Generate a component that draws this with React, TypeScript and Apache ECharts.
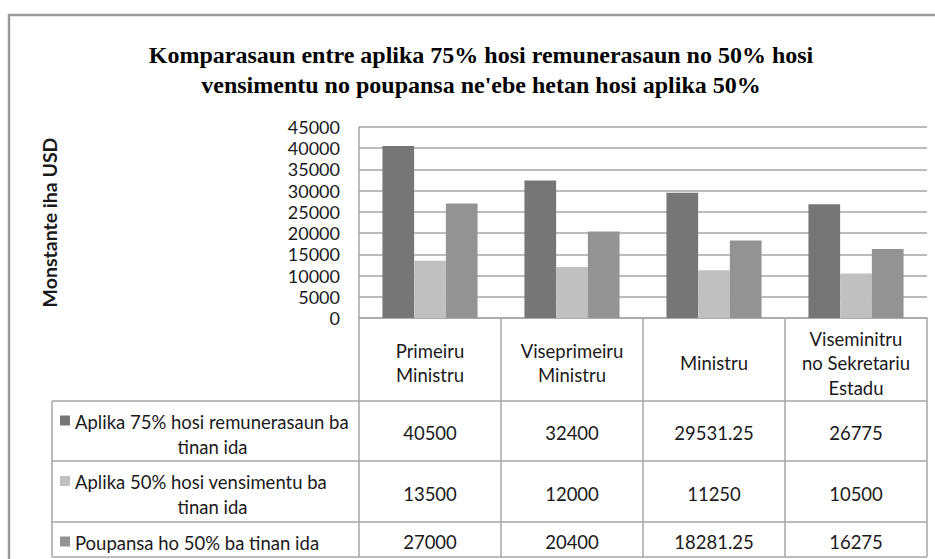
import React, { useEffect, useRef } from "react";
import * as echarts from "echarts";

const titleLines = [
  "Komparasaun entre aplika 75% hosi remunerasaun no 50% hosi",
  "vensimentu no poupansa ne'ebe hetan hosi aplika 50%",
];
const yAxisName = "Monstante iha USD";
const categories = [
  "Primeiru\nMinistru",
  "Viseprimeiru\nMinistru",
  "Ministru",
  "Viseminitru\nno Sekretariu\nEstadu",
];
const seriesNames = [
  "Aplika 75% hosi remunerasaun ba\ntinan ida",
  "Aplika 50% hosi vensimentu ba\ntinan ida",
  "Poupansa ho 50% ba tinan ida",
];
const aplika75 = [40500, 32400, 29531.25, 26775];
const aplika50 = [13500, 12000, 11250, 10500];
const poupansa = [27000, 20400, 18281.25, 16275];
const seriesValues = [aplika75, aplika50, poupansa];
const yMin = 0;
const yMax = 45000;
const yInterval = 5000;

const colors = ["#767676", "#c0c0c0", "#939393"];
const lineColor = "#a6a6a6";
const textColor = "#1a1a1a";
const font = "Lato, 'Open Sans', sans-serif";
const tableFontSize = 18.5;

export default function App() {
  const ref = useRef<HTMLDivElement>(null);
  useEffect(() => {
    if (!ref.current) return;
    const chart = echarts.init(ref.current, undefined, { renderer: "svg" });
    const gridLeft = 359;
    const gridTop = 127;
    const gridWidth = 568;
    const gridHeight = 191;
    chart.setOption({
      animation: false,
      backgroundColor: "#ffffff",
      title: {
        text: titleLines.join("\n"),
        left: 481,
        top: 40,
        padding: 0,
        textAlign: "center",
        textStyle: {
          fontFamily: "'Liberation Serif', 'Times New Roman', serif",
          fontWeight: "bold",
          fontSize: 24,
          lineHeight: 30,
          color: "#000",
        },
      },
      grid: { left: gridLeft, top: gridTop, width: gridWidth, height: gridHeight, containLabel: false },
      xAxis: {
        type: "category",
        data: categories,
        axisLabel: { show: false },
        axisTick: { show: false },
        axisLine: { show: true, lineStyle: { color: lineColor, width: 1.5 } },
        splitLine: { show: false },
      },
      yAxis: {
        type: "value",
        min: yMin,
        max: yMax,
        interval: yInterval,
        name: yAxisName,
        nameLocation: "middle",
        nameRotate: 90,
        nameGap: 300,
        nameTextStyle: { fontFamily: font, fontWeight: "bold", fontSize: 19.5, color: textColor },
        axisLine: { show: true, lineStyle: { color: lineColor, width: 1.5 } },
        axisTick: { show: false },
        splitLine: { show: true, lineStyle: { color: lineColor, width: 1.5 } },
        axisLabel: {
          fontFamily: font,
          fontSize: 18,
          color: textColor,
          margin: 19,
          padding: [5, 0, 0, 0],
          formatter: (v: number) => String(v),
        },
      },
      series: seriesValues.map((vals, i) => ({
        type: "bar",
        name: seriesNames[i],
        data: vals,
        barGap: "0%",
        barCategoryGap: "33%",
        itemStyle: { color: colors[i] },
      })),
    });

    const cx = categories.map((_, i) => chart.convertToPixel({ xAxisIndex: 0 }, i) as number);
    const band = cx.length > 1 ? cx[1] - cx[0] : gridWidth;
    const y0 = chart.convertToPixel({ yAxisIndex: 0 }, 0) as number;
    const tableLeft = 52;
    const headerH = 83;
    const rowHeights = [60, 61, 35];
    const rowTops: number[] = [];
    let acc = y0 + headerH;
    rowHeights.forEach((h) => {
      rowTops.push(acc);
      acc += h;
    });
    const yEnd = acc;
    const colLeft = cx[0] - band / 2;
    const colRight = cx[cx.length - 1] + band / 2;
    const lineStyle = { stroke: lineColor, lineWidth: 1.5 };

    const els: any[] = [];
    els.push({
      type: "rect",
      shape: { x: 9, y: 15, width: 1000, height: 700 },
      style: { fill: "none", stroke: "#9a9a9a", lineWidth: 2.5 },
      z: 0,
    });
    const bounds = cx.map((c) => c - band / 2).concat([colRight]);
    bounds.forEach((x) => {
      els.push({ type: "line", shape: { x1: x, y1: y0, x2: x, y2: yEnd }, style: lineStyle, z: 10 });
    });
    els.push({
      type: "line",
      shape: { x1: tableLeft, y1: y0 + headerH, x2: tableLeft, y2: yEnd },
      style: lineStyle,
      z: 10,
    });
    rowTops.concat([yEnd]).forEach((y) => {
      els.push({ type: "line", shape: { x1: tableLeft, y1: y, x2: colRight, y2: y }, style: lineStyle, z: 10 });
    });
    categories.forEach((c, i) => {
      els.push({
        type: "text",
        x: cx[i],
        y: y0 + 45,
        style: {
          text: c,
          align: "center",
          verticalAlign: "middle",
          fontFamily: font,
          fontSize: tableFontSize,
          lineHeight: 24.5,
          fill: textColor,
        },
        z: 10,
      });
    });
    const lh = 25;
    seriesNames.forEach((name, r) => {
      const top = rowTops[r];
      const center = top + rowHeights[r] / 2;
      const lines = name.split("\n");
      const firstY = center - ((lines.length - 1) * lh) / 2 + 3;
      els.push({
        type: "rect",
        shape: { x: 60, y: firstY - 6, width: 10, height: 10 },
        style: { fill: colors[r] },
        z: 10,
      });
      lines.forEach((ln, k) => {
        els.push({
          type: "text",
          x: k === 0 ? 75 : (tableLeft + colLeft) / 2 + 7,
          y: firstY + k * lh,
          style: {
            text: ln,
            align: k === 0 ? "left" : "center",
            verticalAlign: "middle",
            fontFamily: font,
            fontSize: tableFontSize,
            fill: textColor,
          },
          z: 10,
        });
      });
      seriesValues[r].forEach((v, i) => {
        els.push({
          type: "text",
          x: cx[i],
          y: center + 2,
          style: {
            text: String(v),
            align: "center",
            verticalAlign: "middle",
            fontFamily: font,
            fontSize: tableFontSize,
            fill: textColor,
          },
          z: 10,
        });
      });
    });
    chart.setOption({ graphic: els });
    return () => chart.dispose();
  }, []);
  return (
    <div
      ref={ref}
      style={{ position: "fixed", left: 0, top: 0, width: 935, height: 559, background: "#fff" }}
    />
  );
}
